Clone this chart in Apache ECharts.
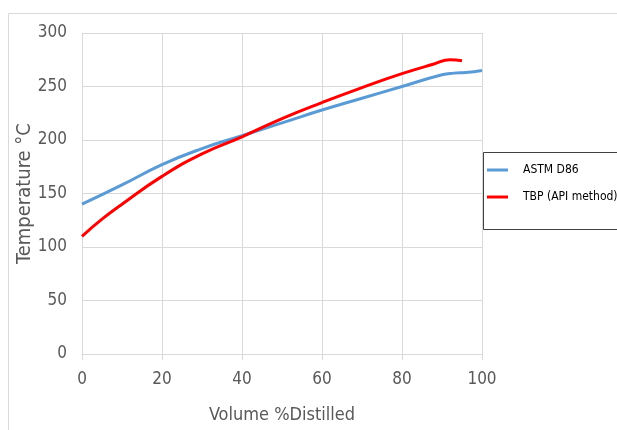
<!DOCTYPE html>
<html>
<head>
<meta charset="utf-8">
<script src="https://cdn.jsdelivr.net/npm/echarts@6/dist/echarts.min.js"></script>
<style>html,body{margin:0;padding:0;background:#fff}#c{width:617px;height:430px}</style>
</head>
<body>
<div id="c"></div>
<script>
var astmX = [0, 10, 20, 30, 40, 50, 60, 70, 80, 90, 93, 96, 100];
var astmY = [140, 158, 177, 192, 204, 216, 228, 239, 250, 261, 262.5, 263, 265];
var tbpX = [0, 5, 10, 20, 30, 40, 50, 60, 70, 80, 88, 92, 95];
var tbpY = [110, 126, 140, 166, 187, 203, 220, 235, 249, 262, 271, 275, 274];
var xTicks = [0, 20, 40, 60, 80, 100];
var yTicks = [0, 50, 100, 150, 200, 250, 300];

function pairs(xs, ys){ return xs.map(function(x,i){ return [x, ys[i]]; }); }

var font = "'Liberation Sans Narrow','DejaVu Sans Condensed','Liberation Sans',sans-serif";
var chart = echarts.init(document.getElementById('c'));
chart.setOption({
  animation: false,
  graphic: [
    {type:'rect', z:-10, shape:{x:8.5,y:13.5,width:700,height:500}, style:{fill:'#fff',stroke:'#D9D9D9',lineWidth:1}},
    {type:'rect', z:5, shape:{x:483.5,y:152.5,width:140,height:77}, style:{fill:'#fff',stroke:'#404040',lineWidth:1}}
  ],
  grid: {left: 82, right: 135, top: 33, bottom: 76, containLabel: false, outerBoundsMode: 'none'},
  legend: {
    z: 10,
    orient: 'vertical',
    left: 487, top: 164, padding: 0,
    itemWidth: 21, itemHeight: 3, itemGap: 15,
    icon: 'rect',
    textStyle: {fontFamily: font, fontSize: 12, color: '#000', padding:[0,0,0,10]},
    data: ['ASTM D86', 'TBP (API method)']
  },
  xAxis: {
    type: 'value', min: 0, max: 100, interval: 20,
    name: 'Volume %Distilled', nameLocation: 'middle', nameGap: 52, nameMoveOverlap: false,
    nameTextStyle: {fontFamily: font, fontSize: 18, color: '#595959'},
    axisLine: {show: true, lineStyle: {color: '#D9D9D9'}},
    axisTick: {show: true, length: 6, lineStyle: {color: '#D9D9D9'}},
    axisLabel: {fontFamily: font, fontSize: 17, color: '#595959', margin: 17},
    splitLine: {show: true, lineStyle: {color: '#D9D9D9'}}
  },
  yAxis: {
    type: 'value', min: 0, max: 300, interval: 50,
    name: 'Temperature °C', nameLocation: 'middle', nameGap: 47, nameRotate: 90, nameMoveOverlap: false,
    nameTextStyle: {fontFamily: font, fontSize: 20, color: '#595959'},
    axisLine: {show: false},
    axisTick: {show: false},
    axisLabel: {fontFamily: font, fontSize: 17, color: '#595959', margin: 15},
    splitLine: {show: true, lineStyle: {color: '#D9D9D9'}}
  },
  series: [
    {name: 'ASTM D86', type: 'line', smooth: true, showSymbol: false, data: pairs(astmX, astmY),
     itemStyle: {color: '#5B9BD5'}, lineStyle: {color: '#5B9BD5', width: 3}},
    {name: 'TBP (API method)', type: 'line', smooth: true, showSymbol: false, data: pairs(tbpX, tbpY),
     itemStyle: {color: '#FF0000'}, lineStyle: {color: '#FF0000', width: 3}}
  ]
});
</script>
</body>
</html>
